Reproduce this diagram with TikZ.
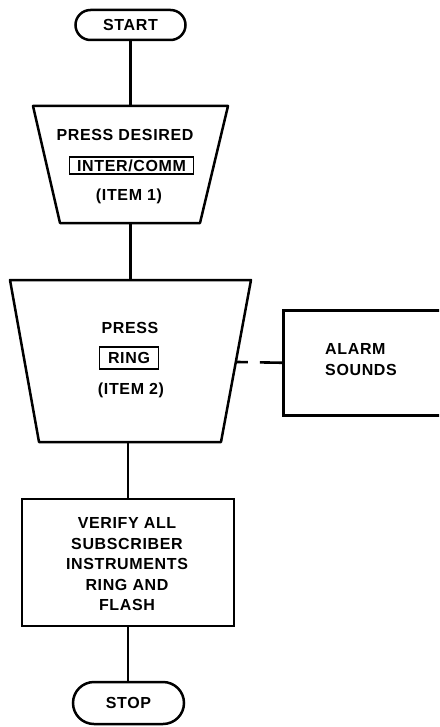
\documentclass[tikz,border=0pt]{standalone}
\usepackage{fontspec}
\setmainfont{Liberation Sans}
\newfontfamily\lab{Liberation Sans}[LetterSpace=4]
\usetikzlibrary{calc,fit}
\begin{document}
\begin{tikzpicture}[x=1pt,y=-1pt,
  outl/.style={line width=2.5pt, line join=round},
  conn/.style={line width=2.6pt},
  lbl/.style={font=\lab\bfseries\fontsize{16}{20.5}\selectfont, inner sep=0pt,
              text height=11.5pt, text depth=0pt, align=center},
  term/.style={draw, line width=2.5pt, font=\lab\bfseries\fontsize{16}{20.5}\selectfont,
               inner sep=0pt, text height=11.5pt, text depth=0pt},
  keybox/.style={lbl, draw, line width=1.1pt},
  procbox/.style={draw, line width=2.5pt, inner sep=0pt}]
\useasboundingbox (0,0) rectangle (439,727);
\clip (0,0) rectangle (439,727);
% START
\node[term, minimum width=110pt, minimum height=30pt, rounded corners=15pt] (start) at (130.5,25) {START};
% Trapezoid 1
\coordinate (t1tl) at (33,106);
\coordinate (t1tr) at (228,106);
\coordinate (t1br) at (200,223);
\coordinate (t1bl) at (60,223);
\draw[outl] (t1tl) -- (t1tr) -- (t1br) -- (t1bl) -- cycle;
\node[fit=(t1tl)(t1tr)(t1br)(t1bl), inner sep=0pt] (t1) {};
\node[lbl] (t1a) at (125,135) {PRESS DESIRED};
\node[keybox, inner xsep=8pt, inner ysep=2.75pt] (t1b) at (131.5,165.5) {INTER/COMM};
\node[lbl] (t1c) at (129,194.5) {(ITEM 1)};
% Trapezoid 2
\coordinate (t2tl) at (10,280);
\coordinate (t2tr) at (251,280);
\coordinate (t2br) at (221,442);
\coordinate (t2bl) at (39,442);
\draw[outl] (t2tl) -- (t2tr) -- (t2br) -- (t2bl) -- cycle;
\node[fit=(t2tl)(t2tr)(t2br)(t2bl), inner sep=0pt] (t2) {};
\node[lbl] (t2a) at (130,327.5) {PRESS};
\node[keybox, inner xsep=8.5pt, inner ysep=5.25pt] (t2b) at (129,358) {RING};
\node[lbl] (t2c) at (131,388.5) {(ITEM 2)};
\coordinate (t2r) at ($(t2tr)!0.506!(t2br)$);
% Alarm box (runs off the right edge)
\node[procbox, minimum width=175pt, minimum height=105pt, anchor=north west] (alarm) at (282,309) {};
\node[lbl, align=left, anchor=west, text height=32pt] (alarmtxt) at (325,359) {ALARM\\SOUNDS};
% Verify box
\node[procbox, minimum width=212pt, minimum height=127pt] (verify) at (128,562.5) {};
\node[lbl, text height=93.5pt] (verifytxt) at (127,564) {VERIFY ALL\\SUBSCRIBER\\INSTRUMENTS\\RING AND\\FLASH};
% STOP
\node[term, minimum width=111pt, minimum height=42pt, rounded corners=21pt] (stop) at (128.5,703) {STOP};
% connectors
\draw[conn] (start.south) -- (start.south |- t1.north);
\draw[conn] (t1.south) -- (t1.south |- t2.north);
\draw[conn] (verify.north |- t2.south) -- (verify.north);
\draw[conn] (verify.south) -- (verify.south |- stop.north);
\draw[conn, dash pattern=on 12pt off 12pt on 24pt off 0pt] (t2r) -- (alarm.west);
\end{tikzpicture}
\end{document}
